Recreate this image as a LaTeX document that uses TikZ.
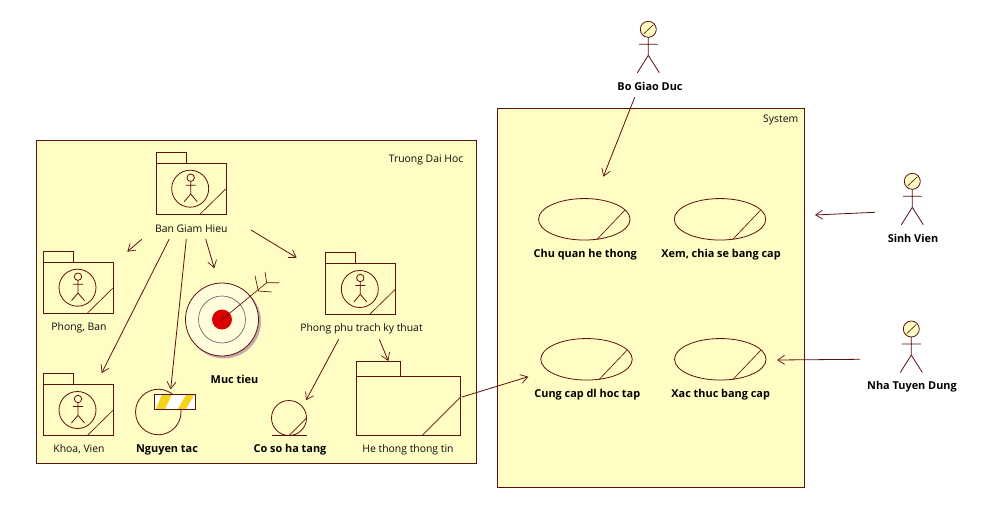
\documentclass[tikz,border=0pt]{standalone}
\usepackage{fontspec}
\setmainfont{Open Sans}
\usetikzlibrary{arrows.meta,shapes.geometric}
\definecolor{ln}{HTML}{5E1010}
\definecolor{bg}{HTML}{FFFCC4}
\definecolor{stripe}{HTML}{F6D21A}
\tikzset{
  outline/.style={draw=ln,line width=0.8pt},
  thin outline/.style={draw=ln,line width=0.65pt},
  frame/.style={outline,fill=bg,rectangle,inner sep=0pt,anchor=north west},
  plain/.style={outline,rectangle,inner sep=0pt,anchor=north west},
  lab/.style={font=\fontsize{10.4}{12}\selectfont,text=black!95,inner sep=0pt,yshift=-1.4pt},
  blab/.style={font=\fontsize{10.9}{12}\selectfont\bfseries,text=black,inner sep=0pt,yshift=-1.4pt},
  rel/.style={draw=ln,line width=0.8pt,-{Straight Barb[length=7pt,width=9pt,line width=0.7pt]}},
}
\newcommand{\stick}{%
  \draw[outline] (0,3.7) -- (0,16.3) (-5,7.5) -- (5,7.5) (-6.5,24) -- (0,16.3) -- (6.5,24);}
\newcommand{\pkgactor}[3]{%
  \begin{scope}[shift={(#2,#3)}]
    \node[plain,minimum width=30pt,minimum height=11pt] (#1Tab) at (0,0) {};
    \node[plain,minimum width=70pt,minimum height=51pt] (#1Body) at (0,11) {};
    \draw[thin outline] (44.5,62) -- (70,37);
    \node[outline,circle,inner sep=0pt,minimum size=37pt] (#1Ring) at (34.5,36.7) {};
    \begin{scope}[shift={(35,25.7)}]
      \draw[outline] (0,0) circle[radius=3.7pt];
      \stick
    \end{scope}
  \end{scope}}
\newcommand{\actor}[3]{%
  \begin{scope}[shift={(#2,#3)}]
    \node[outline,fill=bg,circle,inner sep=0pt,minimum size=16pt] (#1Head) at (0,0) {};
    \draw[thin outline] (-4.5,4.5) -- (5,-4.5);
    \draw[outline] (0,8) -- (0,26) (-9.5,15) -- (9.5,15) (-11,43.5) -- (0,26) -- (11,43.5);
  \end{scope}}
\newcommand{\usecase}[3]{%
  \begin{scope}[shift={(#2,#3)}]
    \node[outline,ellipse,inner sep=0pt,minimum width=91.5pt,minimum height=41.5pt] (#1) at (0,0) {};
    \draw[thin outline] (12.5,20.3) -- (40.7,-9.3);
  \end{scope}}
\begin{document}
\begin{tikzpicture}[x=1pt,y=-1pt]
\useasboundingbox (0,0) rectangle (986,508);
\fill[white] (0,0) rectangle (986,508);
% containers
\node[frame,minimum width=439.5pt,minimum height=323pt] (school) at (36,140) {};
\node[lab,anchor=east] (schoolName) at (463.5,159) {Truong Dai Hoc};
\node[frame,minimum width=306.5pt,minimum height=379pt] (system) at (497,108) {};
\node[lab,anchor=east] (systemName) at (798.5,119) {System};
% packages with actor
\pkgactor{ban}{155.7}{152}
\node[lab] (banName) at (191.3,227) {Ban Giam Hieu};
\pkgactor{phong}{43}{251}
\node[lab] (phongName) at (79,326) {Phong, Ban};
\pkgactor{khoa}{43}{373.3}
\node[lab] (khoaName) at (79,448) {Khoa, Vien};
\pkgactor{kt}{325.3}{252.3}
\node[lab] (ktName) at (361.5,327) {Phong phu trach ky thuat};
% target
\fill[ln!35!white] (224,321.5) circle[radius=37pt];
\node[outline,circle,fill=bg!60!white,inner sep=0pt,minimum size=73pt] (target) at (222,319.5) {};
\draw[draw=gray!80!black,line width=0.65pt] (target.center) circle[radius=23.5pt];
\node[circle,fill=red!85!black,inner sep=0pt,minimum size=20pt] (bull) at (target.center) {};
\coordinate (tail) at (266.7,282.7);
\coordinate (notch) at (258.3,291);
\draw[thin outline] (bull.center) -- (tail);
\draw[thin outline] (255,275.7) -- (notch) -- (271.7,292);
\draw[thin outline] (265,272) -- (tail) -- (279,282.7);
\node[blab] (targetName) at (234.5,378) {Muc tieu};
% rule
\node[outline,circle,inner sep=0pt,minimum size=45.5pt] (rule) at (158.3,412) {};
\node[frame,fill=white,minimum width=41pt,minimum height=15pt] (ruleBar) at (154.3,394.3) {};
\fill[stripe] (161.7,395) -- (171.7,395) -- (165,409) -- (156,409) -- cycle;
\fill[stripe] (186,395) -- (194,395) -- (186,409) -- (177.7,409) -- cycle;
\node[plain,minimum width=41pt,minimum height=15pt] at (154.3,394.3) {};
\node[blab] (ruleName) at (167,448.5) {Nguyen tac};
% infrastructure
\node[outline,circle,inner sep=0pt,minimum size=35pt] (infra) at (289,418) {};
\draw[outline] (272,435.7) -- (306.7,435.7);
\draw[thin outline] (289,435.7) -- (306.7,418);
\node[blab] (infraName) at (290,448) {Co so ha tang};
% subsystem
\node[plain,minimum width=44.7pt,minimum height=15pt] (subTab) at (355.7,361.3) {};
\node[plain,minimum width=104.7pt,minimum height=59pt] (sub) at (355.7,376.3) {};
\draw[thin outline] (422.3,435.3) -- (460.4,397.3);
\node[lab] (subName) at (408,448) {He thong thong tin};
% use cases
\usecase{uc1}{584.3}{219.3}
\node[blab] (uc1Name) at (585.3,253) {Chu quan he thong};
\usecase{uc2}{720}{219.3}
\node[blab] (uc2Name) at (721,253) {Xem, chia se bang cap};
\usecase{uc3}{586.5}{359.3}
\node[blab] (uc3Name) at (587.3,393) {Cung cap dl hoc tap};
\usecase{uc4}{720.3}{359.3}
\node[blab] (uc4Name) at (720.7,393) {Xac thuc bang cap};
% actors
\actor{bo}{648.3}{29.3}
\node[blab] (boName) at (650,85) {Bo Giao Duc};
\actor{sv}{912.3}{181.3}
\node[blab] (svName) at (913,237) {Sinh Vien};
\actor{nt}{911.3}{329}
\node[blab] (ntName) at (912,385) {Nha Tuyen Dung};
% connector ends
\coordinate (banA) at (141.7,239.3); \coordinate (phongIn) at (127.3,251.7);
\coordinate (banB) at (205.7,239); \coordinate (targetIn) at (214.3,268.3);
\coordinate (banC) at (169.3,239); \coordinate (khoaIn) at (101.7,373);
\coordinate (banD) at (186.3,239); \coordinate (ruleIn) at (170.7,389.3);
\coordinate (banE) at (251,230); \coordinate (ktIn) at (296.7,257.7);
\coordinate (ktA) at (338.7,339.3); \coordinate (infraIn) at (306,400.3);
\coordinate (ktB) at (379.3,339.3); \coordinate (subIn) at (388.3,361);
\coordinate (subOut) at (462,397); \coordinate (uc3In) at (528.3,376.7);
\coordinate (boOut) at (634.7,97.3); \coordinate (uc1In) at (603.3,176.7);
\coordinate (svOut) at (875,212.3); \coordinate (systemInA) at (815,215);
\coordinate (ntOut) at (860,359.3); \coordinate (uc4In) at (777,360);
\draw[rel] (banA) -- (phongIn);
\draw[rel] (banB) -- (targetIn);
\draw[rel] (banC) -- (khoaIn);
\draw[rel] (banD) -- (ruleIn);
\draw[rel] (banE) -- (ktIn);
\draw[rel] (ktA) -- (infraIn);
\draw[rel] (ktB) -- (subIn);
\draw[rel] (subOut) -- (uc3In);
\draw[rel] (boOut) -- (uc1In);
\draw[rel] (svOut) -- (systemInA);
\draw[rel] (ntOut) -- (uc4In);
\end{tikzpicture}
\end{document}
